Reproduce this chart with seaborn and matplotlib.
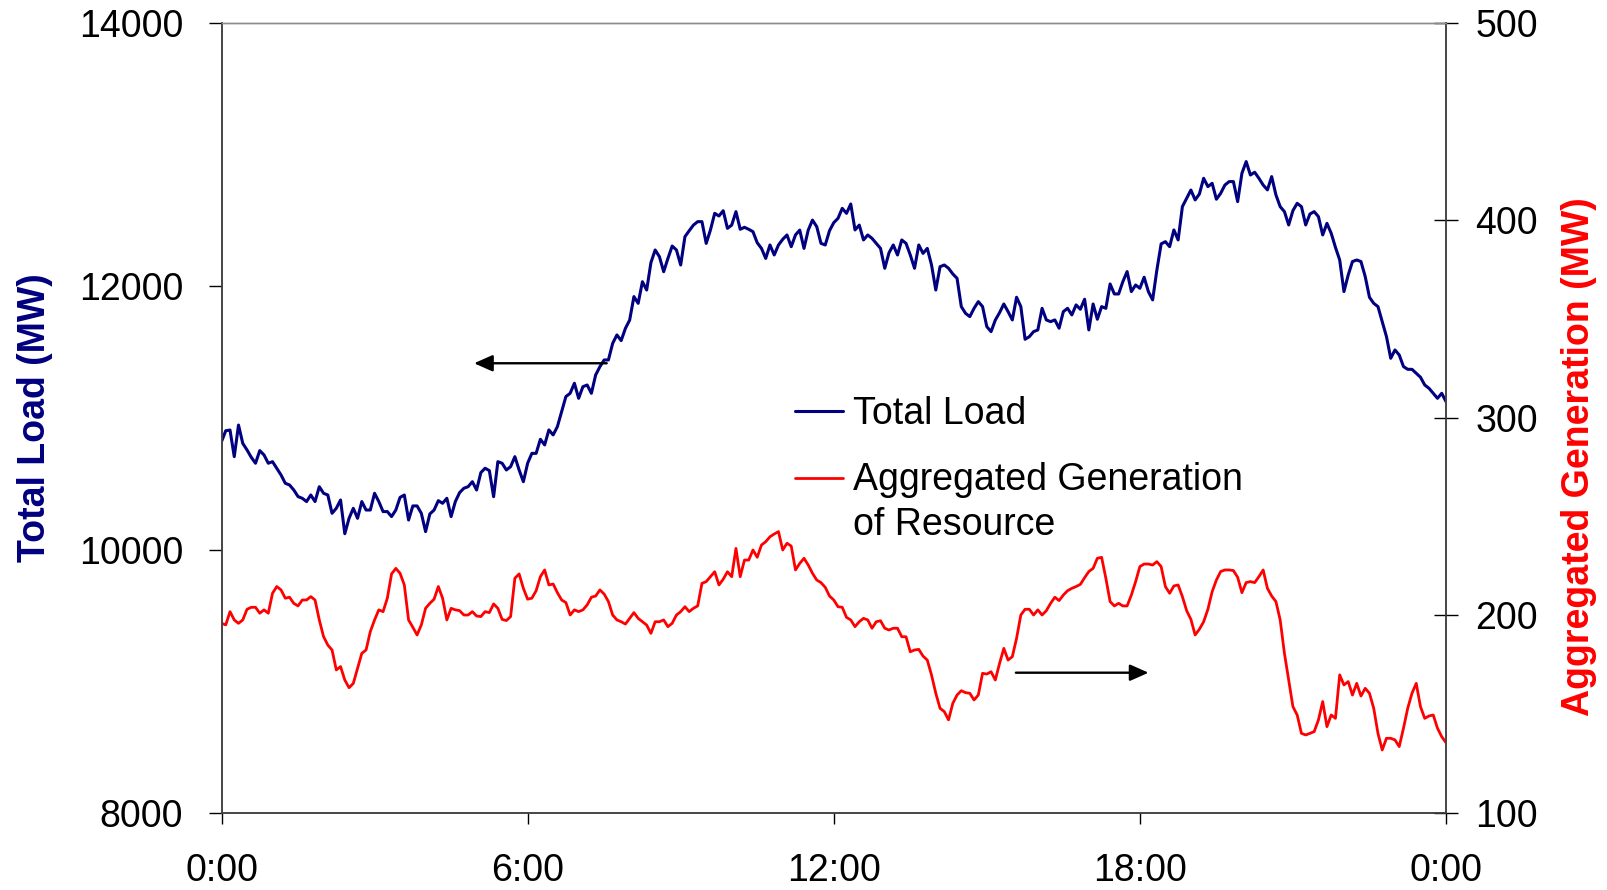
import numpy as np
import matplotlib
matplotlib.use("Agg")
import matplotlib.pyplot as plt
from matplotlib.legend_handler import HandlerLine2D
import seaborn as sns

# 5-minute samples over one day (minutes after midnight)
minutes = np.arange(0, 1441, 5)

# Total system load, MW
total_load = [
    10819, 10902, 10907, 10705, 10945, 10806, 10756, 10700, 10655, 10751,
    10718, 10655, 10667, 10617, 10566, 10503, 10490, 10452, 10402, 10389,
    10364, 10414, 10364, 10477, 10427, 10414, 10275, 10313, 10376, 10120,
    10237, 10313, 10237, 10364, 10300, 10300, 10427, 10364, 10288, 10288,
    10250, 10300, 10396, 10414, 10224, 10331, 10331, 10275, 10136, 10270,
    10300, 10371, 10351, 10389, 10250, 10364, 10432, 10465, 10477, 10515,
    10452, 10584, 10617, 10599, 10401, 10667, 10655, 10604, 10629, 10705,
    10604, 10515, 10655, 10730, 10730, 10837, 10794, 10908, 10870, 10933,
    11047, 11161, 11186, 11262, 11148, 11236, 11249, 11186,
    11325, 11388, 11439, 11439, 11565, 11629, 11586, 11679, 11742, 11920,
    11869, 12033, 11970, 12178, 12274, 12223, 12109, 12210, 12304, 12274,
    12160, 12375, 12420, 12463, 12489, 12489, 12324, 12426, 12552, 12532,
    12572, 12438, 12463, 12565, 12431, 12446, 12431, 12413, 12329, 12286,
    12210, 12312, 12236, 12312, 12355, 12388, 12299, 12388, 12425, 12286,
    12425, 12501, 12451, 12324, 12312, 12420, 12481, 12514, 12590, 12552,
    12623, 12426, 12463, 12350, 12388, 12362, 12324, 12286, 12135, 12253,
    12312, 12236, 12350, 12324, 12236, 12135, 12312, 12248, 12286, 12160,
    11970, 12147, 12160, 12135, 12092, 12059, 11844, 11793, 11768, 11831,
    11882, 11844, 11692, 11654, 11742, 11798,
    11864, 11806, 11743, 11915, 11844, 11596, 11616, 11654, 11667, 11831,
    11743, 11730, 11743, 11680, 11806, 11831, 11781, 11857, 11824, 11900,
    11667, 11864, 11748, 11844, 11831, 12016, 11940, 11940, 12034, 12110,
    11958, 12008, 11983, 12067, 11958, 11895, 12122, 12320, 12337, 12299,
    12426, 12350, 12603, 12666, 12729, 12654, 12699, 12818, 12755, 12780,
    12659, 12704, 12767, 12793, 12793, 12641, 12856, 12945, 12843, 12864,
    12818, 12767, 12730, 12831, 12692, 12603, 12565, 12464, 12573, 12628,
    12603, 12464, 12547, 12565, 12527, 12388, 12476, 12401, 12294, 12198,
    11958, 12084, 12186, 12198, 12186, 12072, 11915, 11869, 11844, 11730,
    11616, 11452, 11515, 11477, 11389, 11368, 11368, 11338, 11308, 11249,
    11224, 11186, 11148, 11186, 11123,
]

# Aggregated generation of the resource, MW
aggregated_gen = [
    196.0, 195.2, 201.9, 197.7, 196.0, 197.7, 203.1, 204.1, 204.1, 201.1,
    202.8, 201.1, 211.2, 214.6, 212.9, 208.7, 209.2, 206.1, 204.8, 207.8,
    207.8, 209.5, 207.8, 197.7, 189.3, 185.0, 182.5, 172.4, 174.1, 167.3,
    163.4, 165.6, 173.2, 180.8, 182.5, 191.8, 197.7, 202.8, 201.9, 208.7,
    221.0, 223.8, 221.3, 215.4, 197.7, 194.0, 190.1, 195.2, 203.6, 206.1,
    208.2, 214.6, 208.7, 197.7, 203.6, 202.8, 202.4, 200.2, 200.2, 201.9,
    199.7, 199.4, 201.9, 201.4, 205.8, 203.6, 198.0, 197.4, 199.4, 218.8,
    221.0, 213.7, 208.2, 208.7, 212.5, 219.6, 223.0, 215.4, 215.9, 211.5,
    207.8, 206.5, 200.2, 202.8, 201.9, 202.8, 205.3, 209.2,
    209.8, 212.9, 210.8, 207.0, 200.2, 197.7,
    196.8, 195.6, 198.5, 201.4, 198.5, 196.8, 195.1, 190.9, 196.8, 196.8,
    197.7, 194.3, 196.0, 200.2, 201.9, 204.4, 201.9, 203.6, 204.8, 216.2,
    217.1, 219.6, 222.1, 215.4, 218.3, 222.1, 219.6, 233.9, 219.6, 228.0,
    228.0, 233.1, 229.4, 235.6, 237.3, 239.8, 241.2, 242.4, 233.1, 236.5,
    235.1, 223.0, 226.3, 228.9, 225.5, 221.3, 217.9, 216.6, 214.2, 209.8,
    207.8, 204.4, 204.1, 199.0, 197.7, 194.3, 196.8, 198.5, 197.7, 193.5,
    196.8, 197.3, 193.5, 192.6, 193.5, 193.5, 189.2, 189.2, 181.6, 182.5,
    182.8, 179.4, 177.4, 169.8, 160.6, 153.0, 151.3, 147.1, 155.5, 159.7,
    161.9, 160.9, 160.6, 157.2, 159.7, 170.7, 170.3, 171.5, 167.3, 175.7,
    183.3, 177.4, 179.1, 188.4,
    200.2, 203.1, 203.1, 200.2, 202.8, 200.2, 202.4, 206.1, 209.2, 207.5,
    210.3, 212.5, 213.7, 214.6, 215.7, 219.1, 222.2, 223.8, 228.9, 229.4,
    218.8, 207.0, 204.8, 206.1, 204.8, 204.8, 210.3, 217.1, 224.7, 226.0,
    226.0, 225.5, 227.2, 224.7, 214.6, 211.2, 214.9, 215.4, 209.5, 202.4,
    198.0, 190.1, 193.0, 196.8, 203.1, 212.0, 217.9, 222.2, 223.0, 223.0,
    222.7, 219.3, 211.5, 216.6, 217.1, 216.6, 219.6, 223.0, 213.7, 209.8,
    207.0, 197.7, 180.8, 167.3, 153.8, 149.6, 140.3, 139.5, 140.3, 141.2,
    147.1, 156.4, 143.7, 149.6, 147.9, 169.9, 164.8, 166.5, 159.7, 165.6,
    159.2, 163.1, 160.6, 153.0, 140.3, 131.9, 137.8, 137.8, 137.0, 133.6,
    142.9, 153.0, 160.6, 165.6, 153.8, 147.9, 149.1, 149.6, 142.9, 138.6,
    135.6,
]

hour_ticks = [0, 6, 12, 18, 24]
hour_labels = ["0:00", "6:00", "12:00", "18:00", "0:00"]
load_ticks = [8000, 10000, 12000, 14000]
gen_ticks = [100, 200, 300, 400, 500]

series_labels = ["Total Load", "Aggregated Generation\nof Resource"]

NAVY = "#000080"
RED = "#ff0000"
AXIS_GREY = "#404040"

sns.set_style("white")
plt.rcParams["font.family"] = ["Liberation Sans", "DejaVu Sans"]

hours = minutes / 60.0

fig = plt.figure(figsize=(16.08, 8.90), dpi=100)
ax = fig.add_axes([0.13775, 0.08652, 0.76150, 0.88809])
ax2 = ax.twinx()

sns.lineplot(x=hours, y=total_load, ax=ax, color=NAVY, linewidth=2.2, legend=False)
sns.lineplot(x=hours, y=aggregated_gen, ax=ax2, color=RED, linewidth=2.0, legend=False)

ax.set_xlim(hour_ticks[0], hour_ticks[-1])
ax.set_ylim(load_ticks[0], load_ticks[-1])
ax2.set_ylim(gen_ticks[0], gen_ticks[-1])
ax.set_xticks(hour_ticks)
ax.set_xticklabels(hour_labels)
ax.set_yticks(load_ticks)
ax.set_yticklabels([str(v) for v in load_ticks])
ax2.set_yticks(gen_ticks)
ax2.set_yticklabels([str(v) for v in gen_ticks])

for a in (ax, ax2):
    for side in ("left", "right", "bottom"):
        a.spines[side].set_color(AXIS_GREY)
        a.spines[side].set_linewidth(1.1)
    a.spines["top"].set_color("#8c8c8c")
    a.spines["top"].set_linewidth(1.0)
    a.grid(False)

ax.tick_params(axis="y", direction="out", length=9.6, width=1.0, pad=18,
               labelsize=27, colors="black", left=True, right=False)
ax.tick_params(axis="x", direction="out", length=8, width=1.0, pad=20.5,
               labelsize=27, colors="black", bottom=True)
ax2.tick_params(axis="y", direction="inout", length=17, width=1.0, pad=12.5,
                labelsize=27, colors="black", right=True, left=False)
for t in ax.get_xticklines() + ax.get_yticklines() + ax2.get_yticklines():
    t.set_color(AXIS_GREY)

ax.set_xlabel("")
ax.set_ylabel("Total Load (MW)", color=NAVY, fontsize=27, fontweight="bold")
ax.yaxis.set_label_coords(-0.1441, 0.5)
ax.yaxis.label.set_va("baseline")
ax2.set_ylabel("Aggregated Generation (MW)", color=RED, fontsize=27,
               fontweight="bold", rotation=90)
ax2.yaxis.set_label_coords(1.117, 0.451)
ax2.yaxis.label.set_va("baseline")
ax2.yaxis.label.set_rotation_mode("anchor")

# Direction arrows: one points at the load axis, one at the generation axis
ax.annotate("", xy=(4.95, 11414), xytext=(7.55, 11414),
            arrowprops=dict(arrowstyle="-|>,head_length=1.13,head_width=0.5",
                            color="black", lw=1.7, shrinkA=0, shrinkB=0))
ax2.annotate("", xy=(18.17, 171.0), xytext=(15.57, 171.0),
             arrowprops=dict(arrowstyle="-|>,head_length=1.13,head_width=0.5",
                             color="black", lw=1.7, shrinkA=0, shrinkB=0))


class FirstLineHandler(HandlerLine2D):
    """Line handle aligned with the first line of a two-line label."""

    def __init__(self, lift, **kw):
        super().__init__(**kw)
        self.lift = lift

    def create_artists(self, legend, orig_handle, xdescent, ydescent,
                       width, height, fontsize, trans):
        artists = super().create_artists(legend, orig_handle, xdescent, ydescent,
                                         width, height, fontsize, trans)
        for art in artists:
            art.set_ydata(np.asarray(art.get_ydata(), dtype=float) + self.lift)
        return artists


h_load = ax.lines[0]
h_gen = ax2.lines[0]
leg = ax2.legend([h_load, h_gen], series_labels,
                 loc="upper left", bbox_to_anchor=(0.4684, 0.5276),
                 frameon=False, fontsize=27, handlelength=1.28,
                 handletextpad=0.27, labelspacing=0.8, borderpad=0,
                 borderaxespad=0,
                 handler_map={h_gen: FirstLineHandler(lift=18.4)})
for t in leg.get_texts():
    t.set_linespacing(1.33)
    t.set_color("black")

fig.savefig("out.png", dpi=100)
